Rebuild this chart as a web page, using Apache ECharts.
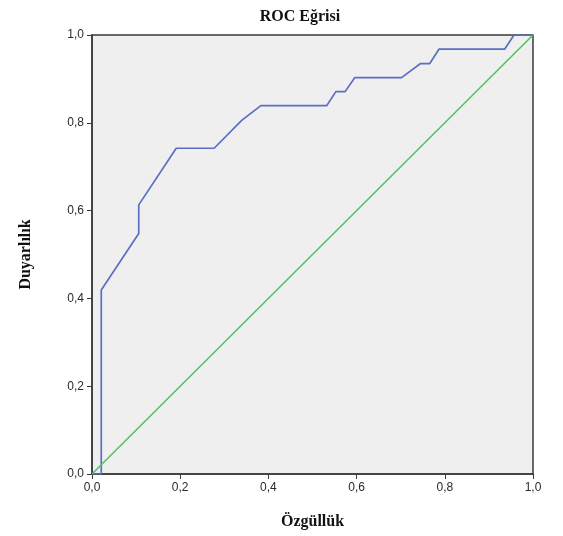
<!DOCTYPE html>
<html>
<head>
<meta charset="utf-8">
<script src="https://cdn.jsdelivr.net/npm/echarts@6/dist/echarts.min.js"></script>
<style>
  html, body { margin: 0; padding: 0; background: #fff; }
  #chart { width: 563px; height: 536px; }
</style>
</head>
<body>
<div id="chart"></div>
<script>
// 1 - özgüllük (x) ve duyarlılık (y) noktaları
var fpr = [0, 0.021, 0.021, 0.106, 0.106, 0.191, 0.277, 0.340, 0.383, 0.532, 0.553, 0.574, 0.596, 0.702, 0.745, 0.766, 0.787, 0.936, 0.957, 1.0];
var tpr = [0, 0, 0.419, 0.548, 0.613, 0.742, 0.742, 0.806, 0.839, 0.839, 0.871, 0.871, 0.903, 0.903, 0.935, 0.935, 0.968, 0.968, 1.0, 1.0];
var refX = [0, 1];
var refY = [0, 1];

function pairs(xs, ys) {
  return xs.map(function (x, i) { return [x, ys[i]]; });
}
function fmt(v) {
  return v.toFixed(1).replace('.', ',');
}

var myChart = echarts.init(document.getElementById('chart'));
var axisCommon = {
  type: 'value',
  min: 0,
  max: 1,
  interval: 0.2,
  axisLine: { show: true, lineStyle: { color: '#3a3a3a', width: 1.5 } },
  axisTick: { show: true, length: 5, lineStyle: { color: '#3a3a3a' } },
  splitLine: { show: false },
  axisLabel: {
    color: '#2a2a2a',
    fontFamily: 'Liberation Sans, Arial, sans-serif',
    fontSize: 12,
    formatter: fmt
  },
  nameLocation: 'middle',
  nameTextStyle: {
    fontFamily: 'Liberation Serif, Times New Roman, serif',
    fontWeight: 'bold',
    fontSize: 16,
    color: '#111'
  }
};

myChart.setOption({
  animation: false,
  title: {
    text: 'ROC Eğrisi',
    left: 295,
    textAlign: 'center',
    top: 4,
    textStyle: {
      fontFamily: 'Liberation Serif, Times New Roman, serif',
      fontWeight: 'bold',
      fontSize: 16,
      color: '#111'
    }
  },
  grid: {
    left: 92,
    right: 30,
    top: 35,
    bottom: 62,
    show: true,
    backgroundColor: '#efefef',
    borderColor: '#3a3a3a',
    borderWidth: 1.5
  },
  xAxis: Object.assign({}, axisCommon, {
    name: 'Özgüllük',
    nameGap: 40
  }),
  yAxis: Object.assign({}, axisCommon, {
    name: 'Duyarlılık',
    nameGap: 58
  }),
  series: [
    {
      type: 'line',
      data: pairs(fpr, tpr),
      symbol: 'none',
      lineStyle: { color: '#5b6fc2', width: 1.7 }
    },
    {
      type: 'line',
      data: pairs(refX, refY),
      symbol: 'none',
      lineStyle: { color: '#4fc25a', width: 1.5 }
    }
  ]
});
</script>
</body>
</html>
